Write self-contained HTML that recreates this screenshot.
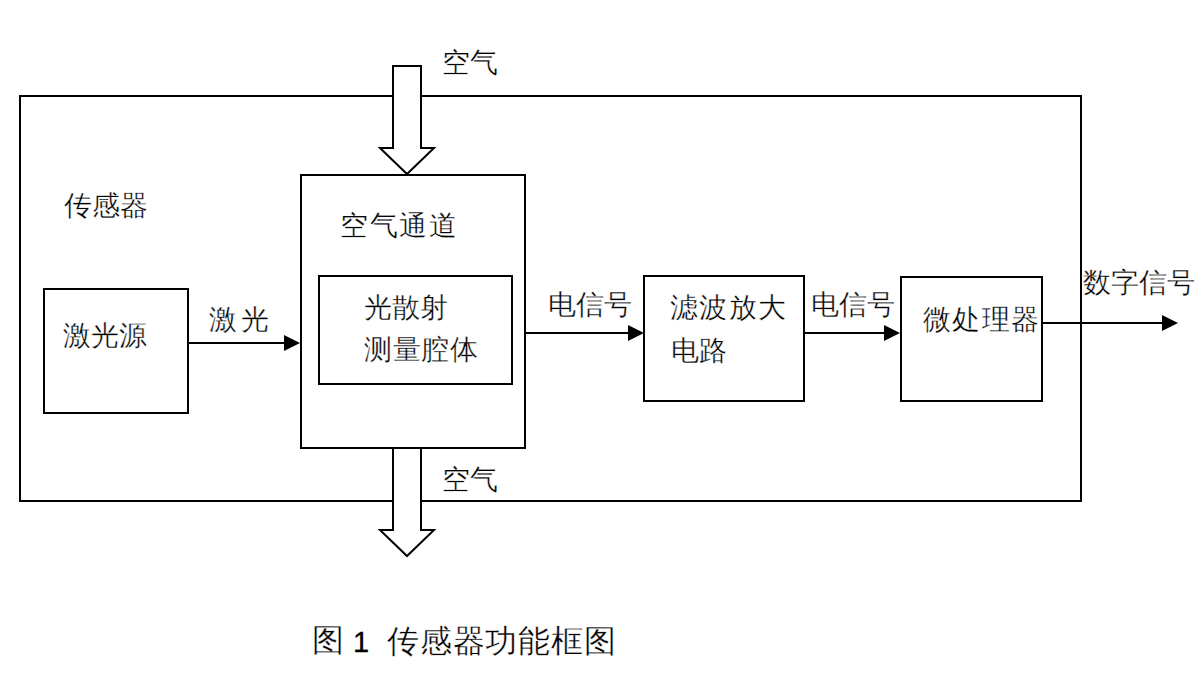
<!DOCTYPE html>
<html><head><meta charset="utf-8">
<title>图 1 传感器功能框图</title>
<style>
html,body{margin:0;padding:0;background:#fff;}
body{width:1201px;height:675px;position:relative;overflow:hidden;font-family:"Liberation Sans",sans-serif;color:#000;}
svg{position:absolute;left:0;top:0;}
.t{position:absolute;white-space:nowrap;font-size:28px;line-height:28px;-webkit-text-stroke:0.35px #fff;}
.t span{display:inline-block;}
.n{font-size:29px;line-height:29px;-webkit-text-stroke:0.3px #000;}
</style></head><body>
<svg width="1201" height="675" viewBox="0 0 1201 675">
<g fill="none" stroke="#000" stroke-width="2" shape-rendering="crispEdges">
<rect x="20" y="96" width="1061" height="405"/>
<rect x="301" y="175" width="224" height="273"/>
<rect x="319" y="276" width="193" height="108"/>
<rect x="44" y="289" width="144" height="124"/>
<rect x="644" y="276" width="160" height="125"/>
<rect x="901" y="277" width="141" height="124"/>
<line x1="188" y1="343" x2="286" y2="343"/>
<line x1="525" y1="333" x2="630" y2="333"/>
<line x1="804" y1="333" x2="886" y2="333"/>
<line x1="1042" y1="323" x2="1164" y2="323"/>
</g>
<g fill="#000" stroke="none">
<polygon points="284,335 300,343 284,351"/>
<polygon points="628,325 644,333 628,341"/>
<polygon points="884,325 900,333 884,341"/>
<polygon points="1162,315 1178,323 1162,331"/>
</g>
<g fill="#fff" stroke="#000" stroke-width="2" stroke-linejoin="miter">
<polygon points="393,66 421,66 421,148 434,148 407,174 380,148 393,148"/>
<polygon points="393,448 421,448 421,530 434,530 407,556 380,530 393,530"/>
</g>
</svg>
<div class="t" id="l1" style="left:442px;top:49px"><span style="width:28px">空</span><span style="width:28px">气</span></div>
<div class="t" id="l2" style="left:64px;top:192px"><span style="width:28px">传</span><span style="width:28px">感</span><span style="width:28px">器</span></div>
<div class="t" id="l3" style="left:340px;top:212px"><span style="width:29.6px">空</span><span style="width:29.6px">气</span><span style="width:29.6px">通</span><span style="width:29.6px">道</span></div>
<div class="t" id="l4" style="left:364px;top:294px"><span style="width:28px">光</span><span style="width:28px">散</span><span style="width:28px">射</span></div>
<div class="t" id="l5" style="left:364px;top:336px"><span style="width:28.6px">测</span><span style="width:28.6px">量</span><span style="width:28.6px">腔</span><span style="width:28.6px">体</span></div>
<div class="t" id="l6" style="left:63px;top:322px"><span style="width:28px">激</span><span style="width:28px">光</span><span style="width:28px">源</span></div>
<div class="t" id="l7" style="left:209px;top:306px"><span style="width:32px">激</span><span style="width:32px">光</span></div>
<div class="t" id="l8" style="left:548px;top:291px"><span style="width:28px">电</span><span style="width:28px">信</span><span style="width:28px">号</span></div>
<div class="t" id="l9" style="left:670px;top:294px"><span style="width:29.3px">滤</span><span style="width:29.3px">波</span><span style="width:29.3px">放</span><span style="width:29.3px">大</span></div>
<div class="t" id="l10" style="left:671px;top:337px"><span style="width:28px">电</span><span style="width:28px">路</span></div>
<div class="t" id="l11" style="left:811px;top:291px"><span style="width:28px">电</span><span style="width:28px">信</span><span style="width:28px">号</span></div>
<div class="t" id="l12" style="left:923px;top:306px"><span style="width:29.3px">微</span><span style="width:29.3px">处</span><span style="width:29.3px">理</span><span style="width:29.3px">器</span></div>
<div class="t" id="l13" style="left:1083px;top:269px"><span style="width:28px">数</span><span style="width:28px">字</span><span style="width:28px">信</span><span style="width:28px">号</span></div>
<div class="t" id="l14" style="left:442px;top:466px"><span style="width:28px">空</span><span style="width:28px">气</span></div>
<div class="t" id="c1" style="left:312px;top:624px;font-size:32px;line-height:32px"><span style="width:32px">图</span></div>
<div class="t n" id="c2" style="left:353px;top:628px">1</div>
<div class="t" id="c3" style="left:387px;top:624.5px;font-size:32px;line-height:32px"><span style="width:32.8px">传</span><span style="width:32.8px">感</span><span style="width:32.8px">器</span><span style="width:32.8px">功</span><span style="width:32.8px">能</span><span style="width:32.8px">框</span><span style="width:32.8px">图</span></div>
</body></html>
